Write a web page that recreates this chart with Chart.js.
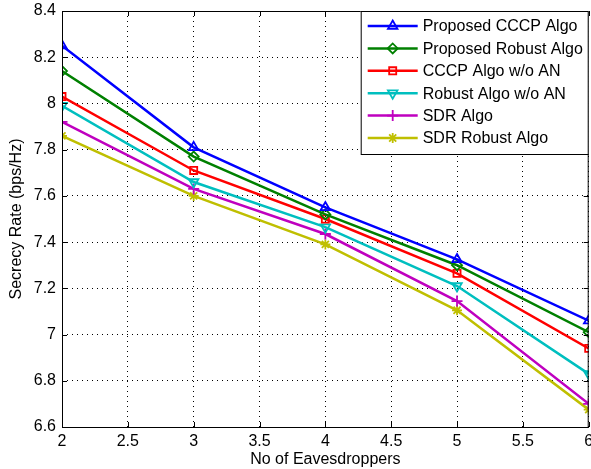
<!DOCTYPE html>
<html>
<head>
<meta charset="utf-8">
<script src="https://cdn.jsdelivr.net/npm/chart.js@4"></script>
<style>
    html, body { margin: 0; padding: 0; background: #fff; overflow: hidden; }
    #caja { position: relative; width: 596px; height: 469px; }
</style>
</head>
<body>
<div id="caja"><canvas id="miGrafico"></canvas></div>
<script>
// Datos
const eavesdroppers = [2, 3, 4, 5, 6];
const proposedCCCP = [8.25, 7.81, 7.55, 7.325, 7.06];
const proposedRobust = [8.14, 7.77, 7.52, 7.30, 7.01];
const cccpNoAN = [8.03, 7.71, 7.50, 7.265, 6.94];
const robustNoAN = [7.99, 7.66, 7.465, 7.21, 6.83];
const sdrAlgo = [7.92, 7.63, 7.435, 7.145, 6.70];
const sdrRobust = [7.86, 7.60, 7.39, 7.105, 6.675];
const xTicks = [2, 2.5, 3, 3.5, 4, 4.5, 5, 5.5, 6];
const yTicks = [6.6, 6.8, 7, 7.2, 7.4, 7.6, 7.8, 8, 8.2, 8.4];

const fuente = "'Liberation Sans', Arial, Helvetica, sans-serif";

function serie(etiqueta, valores, color, estilo, rotacion, radio) {
    return {
        label: etiqueta,
        data: eavesdroppers.map((x, i) => ({ x: x, y: valores[i] })),
        borderColor: color,
        backgroundColor: color,
        borderWidth: 2.5,
        pointStyle: estilo,
        pointRotation: rotacion,
        pointRadius: radio,
        pointBorderWidth: 1.8,
        pointBackgroundColor: 'rgba(0,0,0,0)',
        pointBorderColor: color,
        tension: 0
    };
}

// Marco con marcas hacia dentro, como en MATLAB
const marco = {
    id: 'marco',
    afterDraw(chart) {
        const { ctx, chartArea: a, scales } = chart;
        ctx.save();
        ctx.strokeStyle = '#000';
        ctx.lineWidth = 1;
        ctx.strokeRect(a.left + 0.5, a.top + 0.5, a.right - a.left - 1, a.bottom - a.top);
        ctx.beginPath();
        xTicks.forEach(t => {
            const x = Math.round(scales.x.getPixelForValue(t)) + 0.5;
            ctx.moveTo(x, a.bottom); ctx.lineTo(x, a.bottom - 5);
            ctx.moveTo(x, a.top); ctx.lineTo(x, a.top + 5);
        });
        yTicks.forEach(t => {
            const y = Math.round(scales.y.getPixelForValue(t)) + 0.5;
            ctx.moveTo(a.left, y); ctx.lineTo(a.left + 5, y);
            ctx.moveTo(a.right, y); ctx.lineTo(a.right - 5, y);
        });
        ctx.stroke();

        // Leyenda dentro del area, pegada a la esquina superior derecha
        const ancho = 228, alto = 143;
        const x0 = a.right - ancho, y0 = a.top;
        ctx.fillStyle = '#fff';
        ctx.fillRect(x0, y0, ancho, alto);
        ctx.strokeRect(x0 + 0.5, y0 + 0.5, ancho - 1, alto);
        ctx.font = '16px ' + fuente;
        ctx.textBaseline = 'middle';
        ctx.textAlign = 'left';
        chart.data.datasets.forEach((ds, i) => {
            const y = y0 + 15 + i * 22.4;
            ctx.strokeStyle = ds.borderColor;
            ctx.lineWidth = ds.borderWidth;
            ctx.beginPath();
            ctx.moveTo(x0 + 7, y); ctx.lineTo(x0 + 57, y);
            ctx.stroke();
            ctx.lineWidth = ds.pointBorderWidth;
            ctx.fillStyle = ds.pointBackgroundColor;
            Chart.helpers.drawPoint(ctx, {
                pointStyle: ds.pointStyle,
                rotation: ds.pointRotation,
                radius: ds.pointRadius,
                borderWidth: ds.pointBorderWidth
            }, x0 + 32, y);
            ctx.fillStyle = '#000';
            ctx.fillText(ds.label, x0 + 62, y + 1);
        });
        ctx.restore();
    }
};

const ctx = document.getElementById('miGrafico').getContext('2d');
new Chart(ctx, {
    type: 'line',
    data: {
        datasets: [
            serie('Proposed CCCP Algo', proposedCCCP, '#0000ff', 'triangle', 0, 5.5),
            serie('Proposed Robust Algo', proposedRobust, '#008000', 'rectRot', 0, 5),
            serie('CCCP Algo w/o AN', cccpNoAN, '#ff0000', 'rect', 0, 5),
            serie('Robust Algo w/o AN', robustNoAN, '#00bfbf', 'triangle', 180, 5.5),
            serie('SDR Algo', sdrAlgo, '#bf00bf', 'cross', 0, 5.5),
            serie('SDR Robust Algo', sdrRobust, '#bfbf00', 'star', 0, 5)
        ]
    },
    options: {
        responsive: true,
        maintainAspectRatio: false,
        animation: false,
        layout: { padding: 0 },
        plugins: {
            legend: { display: false },
            tooltip: { enabled: false }
        },
        scales: {
            x: {
                type: 'linear',
                min: 2,
                max: 6,
                afterBuildTicks: (eje) => { eje.ticks = xTicks.map(v => ({ value: v })); },
                afterFit: (eje) => {
                    eje.height = 42;
                    eje.paddingLeft = 0;
                    eje.paddingRight = 2;
                },
                grid: {
                    color: '#000',
                    lineWidth: 1,
                    drawTicks: false
                },
                border: { display: false, dash: [1, 4] },
                ticks: {
                    color: '#000',
                    padding: 5,
                    maxRotation: 0,
                    font: { size: 16, family: fuente },
                    callback: (v) => String(v)
                },
                title: {
                    display: true,
                    text: 'No of Eavesdroppers',
                    color: '#000',
                    padding: { top: 0, bottom: 0 },
                    font: { size: 16, family: fuente }
                }
            },
            y: {
                min: 6.6,
                max: 8.4,
                afterBuildTicks: (eje) => { eje.ticks = yTicks.map(v => ({ value: v })); },
                afterFit: (eje) => {
                    eje.width = 62;
                    eje.paddingTop = 11;
                    eje.paddingBottom = 0;
                },
                grid: {
                    color: '#000',
                    lineWidth: 1,
                    drawTicks: false
                },
                border: { display: false, dash: [1, 4] },
                ticks: {
                    color: '#000',
                    padding: 6,
                    font: { size: 16, family: fuente },
                    callback: (v) => String(Number(v.toFixed(1)))
                },
                title: {
                    display: true,
                    text: 'Secrecy Rate (bps/Hz)',
                    color: '#000',
                    padding: { top: 7, bottom: 0 },
                    font: { size: 16, family: fuente }
                }
            }
        }
    },
    plugins: [marco]
});
</script>
</body>
</html>
